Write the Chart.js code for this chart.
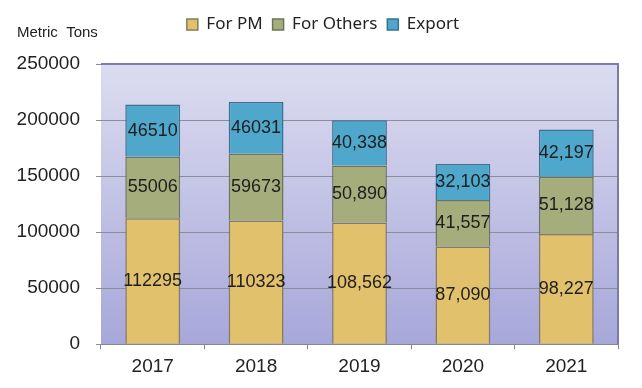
<!DOCTYPE html>
<html>
<head>
<meta charset="utf-8">
<script src="https://cdn.jsdelivr.net/npm/chart.js@4.4.0/dist/chart.umd.min.js"></script>
<style>
  html, body { margin: 0; padding: 0; background: #fff; }
  #wrap { width: 642px; height: 388px; }
</style>
</head>
<body>
<div id="wrap"><canvas id="tonsChart"></canvas></div>
<script>
// Data
const years = ['2017', '2018', '2019', '2020', '2021'];
const forPM = [112295, 110323, 108562, 87090, 98227];
const forOthers = [55006, 59673, 50890, 41557, 51128];
const exportTons = [46510, 46031, 40338, 32103, 42197];
// labels as printed on the bars (some with commas, some without)
const pmLabels = ['112295', '110323', '108,562', '87,090', '98,227'];
const othersLabels = ['55006', '59673', '50,890', '41,557', '51,128'];
const exportLabels = ['46510', '46031', '40,338', '32,103', '42,197'];
const yTicks = [0, 50000, 100000, 150000, 200000, 250000];

const ARIAL = '"Liberation Sans", Arial, sans-serif';
const ctx = document.getElementById('tonsChart').getContext('2d');

// make room under the legend so the plot starts lower, and nudge it right
const legendSpace = {
    id: 'legendSpace',
    beforeLayout(chart) {
        const lg = chart.legend;
        if (lg && !lg._patched) {
            const fit = lg.fit;
            lg.fit = function () {
                fit.call(this);
                this.height = 58;
            };
            const draw = lg.draw;
            lg.draw = function () {
                this.ctx.save();
                this.ctx.translate(14, 0);
                draw.call(this);
                this.ctx.restore();
            };
            lg._patched = true;
        }
    }
};

// lavender plot background + frame
const plotBackground = {
    id: 'plotBackground',
    beforeDraw(chart) {
        const { ctx, chartArea: a } = chart;
        const g = ctx.createLinearGradient(0, a.top, 0, a.bottom);
        g.addColorStop(0, '#dcdcf0');
        g.addColorStop(1, '#a7a7da');
        ctx.save();
        ctx.fillStyle = g;
        ctx.fillRect(a.left, a.top, a.right - a.left, a.bottom - a.top);
        ctx.restore();
    },
    afterDraw(chart) {
        const { ctx, chartArea: a } = chart;
        ctx.save();
        ctx.strokeStyle = '#7c7aaa';
        ctx.lineWidth = 2;
        ctx.beginPath();
        ctx.moveTo(a.left, a.top);
        ctx.lineTo(a.right, a.top);
        ctx.lineTo(a.right, a.bottom);
        ctx.stroke();
        // unit caption
        ctx.fillStyle = '#222';
        ctx.font = '15px ' + ARIAL;
        ctx.textBaseline = 'middle';
        ctx.fillText('Metric  Tons', 17, 33);
        ctx.restore();
    }
};

// numbers inside each segment
const barLabels = {
    id: 'barLabels',
    afterDatasetsDraw(chart) {
        const { ctx } = chart;
        ctx.save();
        ctx.fillStyle = '#1e1e1e';
        ctx.font = '18px ' + ARIAL;
        ctx.textAlign = 'center';
        ctx.textBaseline = 'middle';
        chart.data.datasets.forEach((ds, i) => {
            chart.getDatasetMeta(i).data.forEach((bar, j) => {
                const mid = (bar.y + bar.base) / 2;
                ctx.fillText(ds.valueLabels[j], bar.x, mid);
            });
        });
        ctx.restore();
    }
};

const tonsChart = new Chart(ctx, {
    type: 'bar',
    data: {
        labels: years,
        datasets: [
            {
                label: 'For PM',
                data: forPM,
                valueLabels: pmLabels,
                backgroundColor: '#e2c16c',
                borderColor: '#857c58',
                borderWidth: 1.5
            },
            {
                label: 'For Others',
                data: forOthers,
                valueLabels: othersLabels,
                backgroundColor: '#a5ad7d',
                borderColor: '#6c7456',
                borderWidth: 1.5
            },
            {
                label: 'Export',
                data: exportTons,
                valueLabels: exportLabels,
                backgroundColor: '#4fa7cb',
                borderColor: '#3a7290',
                borderWidth: 1.5
            }
        ]
    },
    options: {
        responsive: true,
        maintainAspectRatio: false,
        animation: false,
        layout: { padding: { top: 6, right: 24, left: 0, bottom: 4 } },
        datasets: {
            bar: { categoryPercentage: 0.53, barPercentage: 1 }
        },
        scales: {
            x: {
                stacked: true,
                offset: true,
                grid: {
                    display: true,
                    drawOnChartArea: false,
                    offset: true,
                    color: '#888',
                    tickLength: 5
                },
                border: { color: '#888' },
                ticks: {
                    color: '#222',
                    padding: 6,
                    font: { size: 19, family: ARIAL }
                }
            },
            y: {
                stacked: true,
                min: 0,
                max: 250000,
                afterBuildTicks(scale) {
                    scale.ticks = yTicks.map(v => ({ value: v }));
                },
                afterFit(scale) { scale.width = 101; },
                grid: { color: '#8c8c9c', lineWidth: 1, tickLength: 5 },
                border: { display: false },
                ticks: {
                    color: '#222',
                    padding: 16,
                    font: { size: 19, family: ARIAL },
                    callback: v => String(v)
                }
            }
        },
        plugins: {
            legend: {
                position: 'top',
                labels: {
                    color: '#222',
                    boxWidth: 11,
                    boxHeight: 11,
                    padding: 10,
                    font: { size: 17, family: '"Noto Sans", "Open Sans", sans-serif' }
                }
            },
            tooltip: { enabled: false }
        }
    },
    plugins: [legendSpace, plotBackground, barLabels]
});
</script>
</body>
</html>
